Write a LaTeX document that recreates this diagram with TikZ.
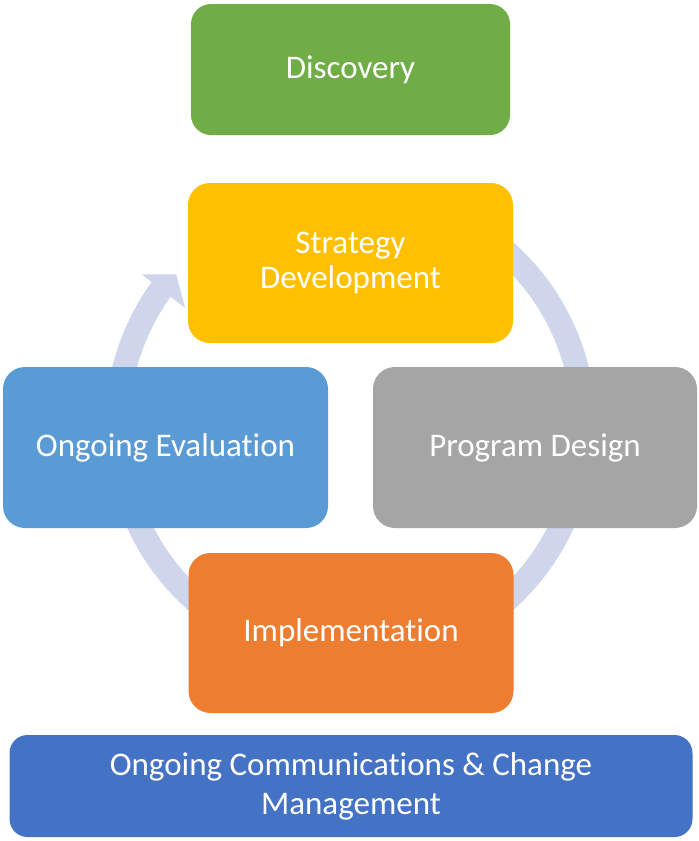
\documentclass[tikz,border=0pt]{standalone}
\usepackage{fontspec}
\setmainfont{Carlito}[Ligatures=NoCommon]
\usetikzlibrary{calc}

\definecolor{discoverygreen}{HTML}{70AD47}
\definecolor{strategyyellow}{HTML}{FFC000}
\definecolor{designgray}{HTML}{A5A5A5}
\definecolor{implorange}{HTML}{ED7D31}
\definecolor{evalblue}{HTML}{5B9BD5}
\definecolor{commsblue}{HTML}{4472C4}
\definecolor{ringblue}{HTML}{CFD5EA}

\tikzset{
  phasebox/.style={rounded corners=22pt, text=white, align=center,
    inner sep=0pt, font=\fontsize{33}{35}\selectfont},
  ring/.style={line width=24pt, draw=ringblue},
}

\begin{document}
\begin{tikzpicture}[x=1pt,y=1pt]
  \useasboundingbox (0,0) rectangle (699,-841);

  % Drawing the cycle ring
  \coordinate (ringc) at (350.5,-426);
  \draw [ring] ($(ringc)+(70:233.5pt)$) arc [start angle=70, end angle=-216, radius=233.5pt];%
  \fill [ringblue] ($(ringc)+(144:258pt)$) -- ($(ringc)+(139:231pt)$) -- ($(ringc)+(144.5:203pt)$) -- cycle;%

  % Drawing the phases
  \node [phasebox, fill=discoverygreen, minimum width=319pt, minimum height=131pt, rounded corners=20pt] (discovery) at (350.5,-69.5) {Discovery};%
  \node [phasebox, fill=strategyyellow, minimum width=325pt, minimum height=160pt] (strategy) at (350.5,-263) {Strategy\\Development};%
  \node [phasebox, fill=evalblue, minimum width=325pt, minimum height=161pt] (evaluation) at (165.5,-447.5) {Ongoing Evaluation};%
  \node [phasebox, fill=designgray, minimum width=324pt, minimum height=161pt] (design) at (535,-447.5) {Program Design};%
  \node [phasebox, fill=implorange, minimum width=325pt, minimum height=160pt] (implementation) at (351,-633) {Implementation};%

  % Drawing the base bar
  \node [phasebox, fill=commsblue, minimum width=683pt, minimum height=102pt, rounded corners=18pt, font=\fontsize{33}{39}\selectfont] (comms) at (351,-786) {Ongoing Communications \& Change\\Management};%
\end{tikzpicture}
\end{document}
